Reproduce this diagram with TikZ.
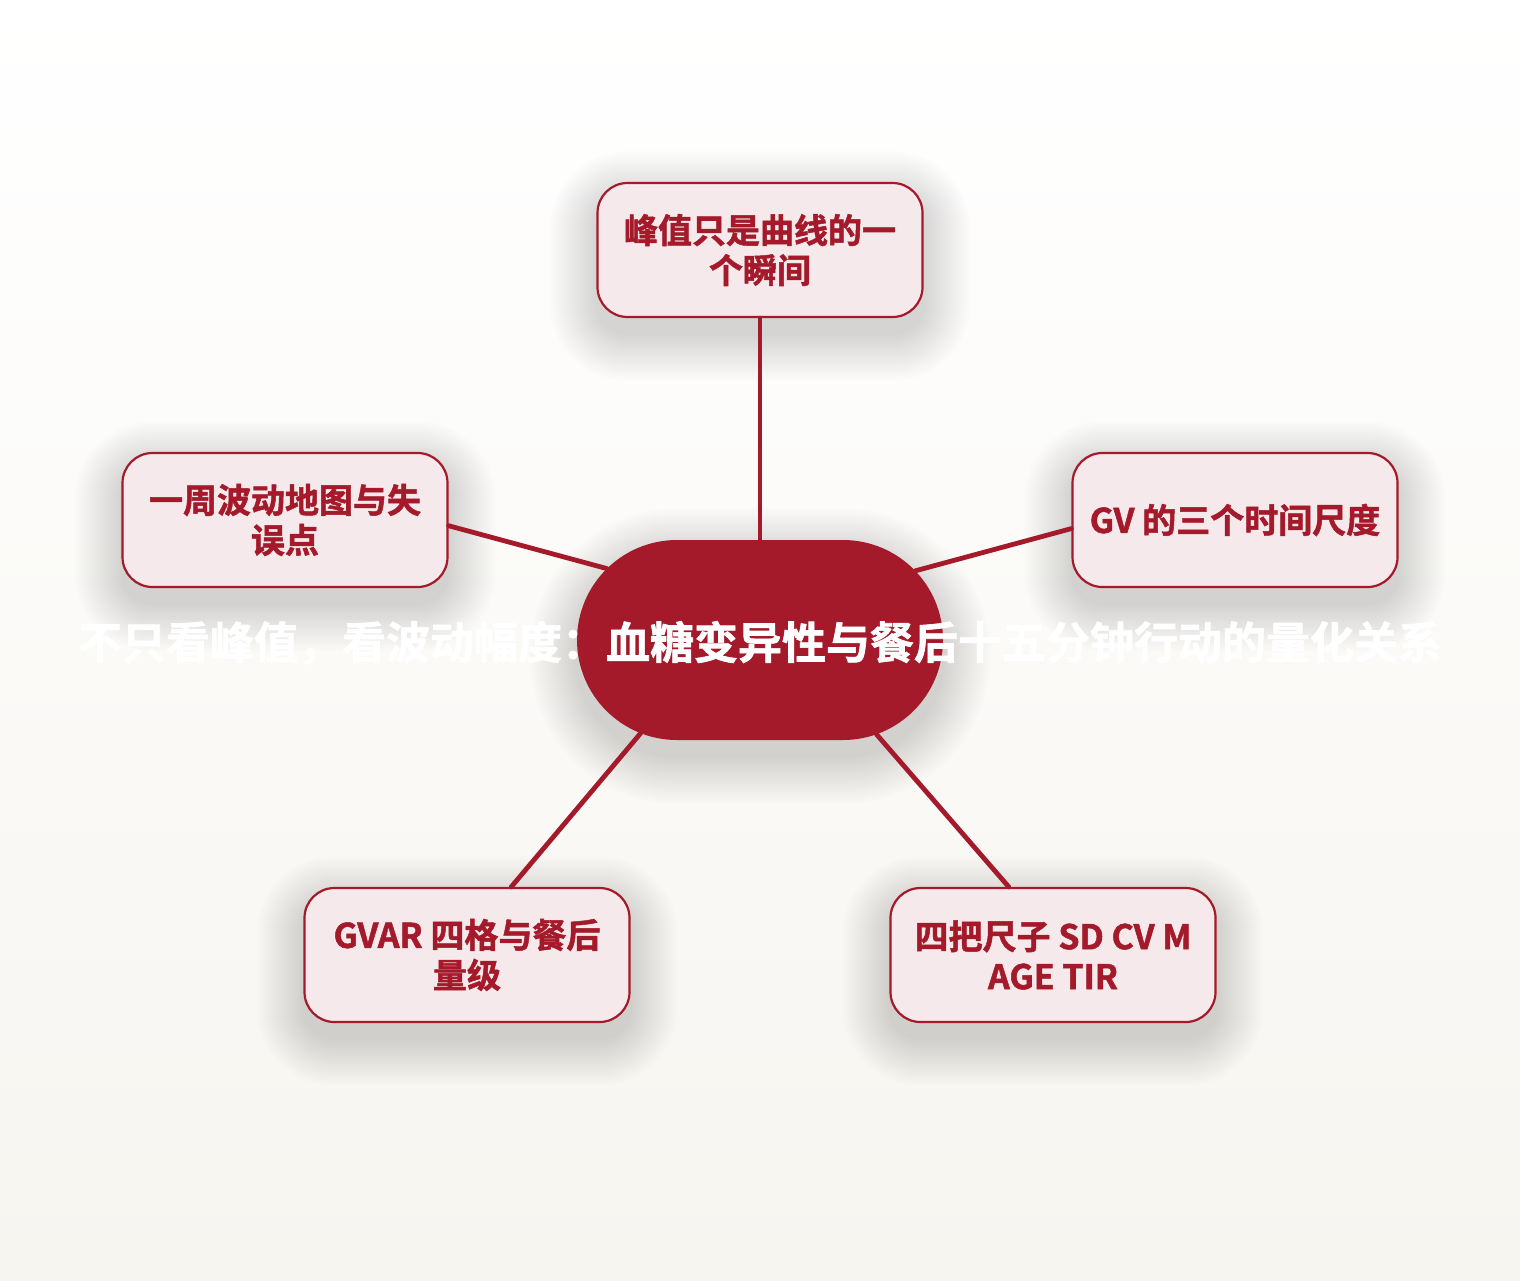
\documentclass[tikz,border=0pt]{standalone}
\usepackage{fontspec}
\setmainfont{Noto Sans CJK SC}[BoldFont={Noto Sans CJK SC Bold}, BoldFeatures={FakeBold=1.5}]
\usetikzlibrary{shapes.misc}
\definecolor{dred}{HTML}{A51A2A}
\definecolor{pinkfill}{HTML}{F5E9EC}
\definecolor{bgbottom}{HTML}{F7F5F0}
\pgfdeclarelayer{bglayer}
\pgfdeclarelayer{shadowlayer}
\pgfsetlayers{bglayer,shadowlayer,main}
\begin{document}
\begin{tikzpicture}[x=1pt,y=-1pt,
  childbox/.style={draw=dred, line width=2.2pt, fill=pinkfill, rounded corners=30pt,
    minimum width=325pt, minimum height=134pt, inner sep=0pt, align=center, text=dred,
    font=\bfseries\fontsize{34}{40}\selectfont},
  hubbox/.style={rounded rectangle, fill=dred, minimum width=366pt, minimum height=200pt, inner sep=0pt},
  link/.style={draw=dred, line width=4.8pt, line cap=round},
  shadowpart/.style={fill=black, opacity=0.009},
  titletext/.style={text=white, font=\bfseries\fontsize{44}{50}\selectfont, inner sep=0pt}]
\begin{pgfonlayer}{bglayer}
\fill[top color=white, bottom color=bgbottom] (0,0) rectangle (1520,1280);
\end{pgfonlayer}
\useasboundingbox (0,0) rectangle (1520,1280);

\node[hubbox] (hub) at (760,640) {};
\node[childbox] (top) at (760,250) {峰值只是曲线的一\\个瞬间};
\node[childbox] (left) at (285,520) {一周波动地图与失\\误点};
\node[childbox] (right) at (1235,520) {GV 的三个时间尺度};
\node[childbox] (bl) at (467,955) {GVAR 四格与餐后\\量级};
\node[childbox] (br) at (1053,955) {四把尺子 SD CV M\\AGE TIR};

\begin{pgfonlayer}{shadowlayer}
\foreach \n/\hw/\hh/\r in {top/162.5/67/30, left/162.5/67/30, right/162.5/67/30, bl/162.5/67/30, br/162.5/67/30, hub/183/100/100}{
  \foreach \i in {1,...,20}{
    \pgfmathsetmacro{\rr}{\r+\i*2.4}
    \pgfmathsetmacro{\ax}{-\hw-\i*2.4}
    \pgfmathsetmacro{\ay}{-\hh-\i*2.4+16}
    \pgfmathsetmacro{\bx}{\hw+\i*2.4}
    \pgfmathsetmacro{\by}{\hh+\i*2.4+16}
    \fill[shadowpart, rounded corners=\rr pt] ([shift={(\ax,\ay)}]\n.center) rectangle ([shift={(\bx,\by)}]\n.center);
  }
}
\end{pgfonlayer}

\draw[link] (hub.north) -- (top.south);
\draw[link] (hub.155.4) -- (left.-2.5);
\draw[link] (hub.24.9) -- (right.183.2);
\draw[link] (hub.218.4) -- (bl.57.3);
\draw[link] (hub.321.6) -- (br.123.9);

\node[titletext] (title) at (760,643) {不只看峰值，看波动幅度：血糖变异性与餐后十五分钟行动的量化关系};
\end{tikzpicture}
\end{document}
